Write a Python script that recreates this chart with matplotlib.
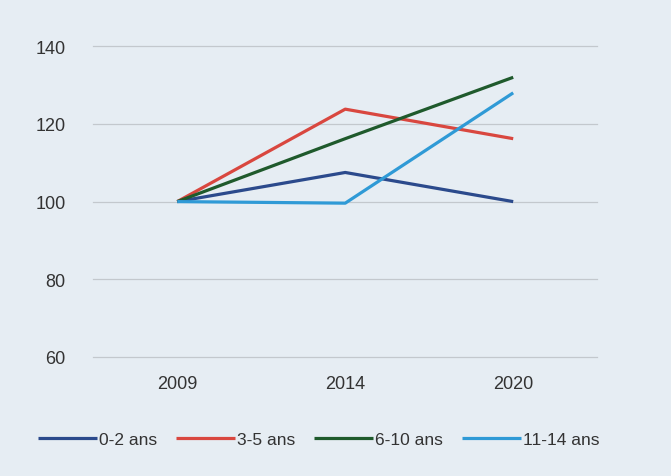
import matplotlib
matplotlib.use("Agg")
import matplotlib.pyplot as plt

years = ["2009", "2014", "2020"]
labels = ["0-2 ans", "3-5 ans", "6-10 ans", "11-14 ans"]
v_0_2 = [100, 107.5, 100]
v_3_5 = [100, 123.8, 116.2]
v_6_10 = [100, 116.2, 132]
v_11_14 = [100, 99.6, 128]
series = [v_0_2, v_3_5, v_6_10, v_11_14]
colors = ["#2b4a8c", "#d9473f", "#1f5a2c", "#2f9ad6"]
yticks = [60, 80, 100, 120, 140]

bg = "#e6edf3"
fam = ["Liberation Sans Narrow", "Liberation Sans", "DejaVu Sans"]

fig = plt.figure(figsize=(6.71, 4.77), dpi=100, facecolor=bg)
ax = fig.add_axes([0.139, 0.2495, 0.751, 0.6515], facecolor=bg)

x = list(range(len(years)))
order = [3, 0, 1, 2]
for i in order:
    ax.plot(x, series[i], color=colors[i], lw=2.3, label=labels[i], zorder=3 + i,
            solid_capstyle="butt")

ax.set_xlim(-0.5, 2.5)
ax.set_ylim(60, 140)
ax.set_yticks(yticks)
ax.set_xticks(x)
ax.set_xticklabels(years)
ax.grid(axis="y", color="#c3c8cd", lw=0.9, clip_on=False)
for gl in ax.get_ygridlines():
    gl.set_clip_on(False)
ax.set_axisbelow(True)
for s in ax.spines.values():
    s.set_visible(False)
ax.tick_params(length=0, labelsize=13, labelcolor="#333333")
ax.tick_params(axis="y", pad=20)
ax.tick_params(axis="x", pad=13)
for t in ax.get_xticklabels() + ax.get_yticklabels():
    t.set_family(fam)

handles, lbls = ax.get_legend_handles_labels()
hmap = dict(zip(lbls, handles))
leg = fig.legend([hmap[l] for l in labels], labels, loc="center", bbox_to_anchor=(0.475, 0.077),
                 ncol=4, frameon=False, handlelength=3.4, handletextpad=0.1, columnspacing=1.1,
                 prop={"family": fam, "size": 12.5})
for t in leg.get_texts():
    t.set_color("#333333")

fig.savefig("out.png", dpi=100, facecolor=bg)
